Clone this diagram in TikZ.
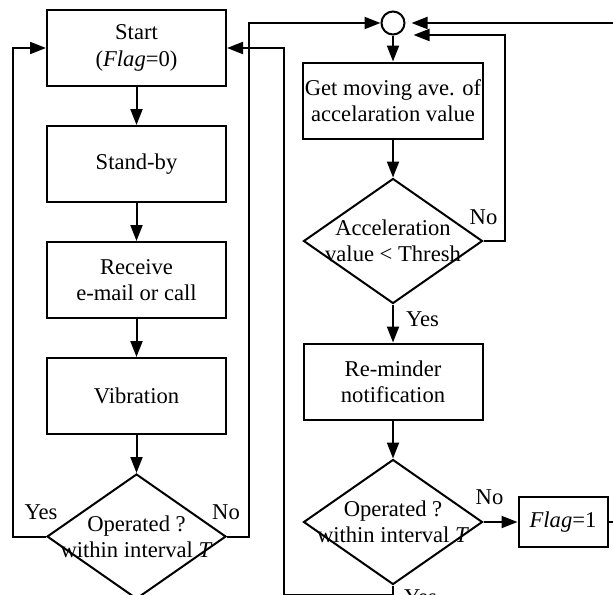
\documentclass[tikz,border=0pt]{standalone}
\usepackage{fontspec}
\setmainfont{Liberation Serif}
\usepackage{tikz}
\usetikzlibrary{arrows.meta,positioning,shapes.geometric}

\begin{document}
\begin{tikzpicture}[x=0.5pt,y=-0.5pt,->,>={Triangle[length=8pt,width=6pt]},line width=1pt,node distance=19pt,
  font=\fontsize{11.3}{13.2}\selectfont,
  box/.style={rectangle,draw,minimum width=89.5pt,minimum height=38pt,inner sep=1pt,align=center},
  dec/.style={diamond,draw,minimum width=89.5pt,minimum height=62.5pt,inner sep=0pt},
  lbl/.style={inner sep=1pt}]
	\useasboundingbox (0,0) rectangle (613,594);
	\clip (0,0) rectangle (613,594);
	% left column
	\node[box]               (Start)                      at (136.5,48) {Start\\(\textit{Flag}=0)};
	\node[box]               (Stand)  [below=of Start]    {Stand-by};
	\node[box]               (Recv)   [below=of Stand]    {Receive\\e-mail or call};
	\node[box]               (Vib)    [below=of Recv]     {Vibration};
	\node[dec]               (Op)     [below=of Vib]      {};
	\node[align=center]      (OpT)    at (Op)             {Operated ?\\within interval \textit{T}};
	% right column
	\node[circle,draw,minimum size=11.5pt,inner sep=0pt] (Junc) at (393,23) {};
	\node[box]               (Ave)    [below=13pt of Junc] {Get moving ave. of\\accelaration value};
	\node[dec]               (Acc)    [below=of Ave]      {};
	\node[align=center]      (AccT)   at (Acc)            {Acceleration\\value < Thresh};
	\node[box]               (Remind) [below=of Acc]      {Re-minder\\notification};
	\node[dec]               (Op2)    [below=of Remind]   {};
	\node[align=center]      (Op2T)   at (Op2)            {Operated ?\\within interval \textit{T}};
	\node[box,minimum width=44.5pt,minimum height=25pt] (Flag) [right=17pt of Op2] {\textit{Flag}=1};
	\coordinate (Back) at ([shift={(8,12)}]Junc.east);
	\coordinate (Top)  at ([xshift=3pt]Junc.east);
	\coordinate (Ret)  at ([xshift=28.5pt]Start.east);
	\path (Start)  edge (Stand)
	      (Stand)  edge (Recv)
	      (Recv)   edge (Vib)
	      (Vib)    edge (Op)
	      (Junc)   edge (Ave)
	      (Ave)    edge (Acc)
	      (Acc)    edge node[lbl,right=5pt,yshift=2.25pt] (YesA) {Yes} (Remind)
	      (Remind) edge (Op2)
	      (Op2)    edge node[lbl,above=7pt,xshift=-5.5pt] (NoB) {No} (Flag);
	% loops back
	\draw (Op.west) -- node[lbl,above=7pt,xshift=5.75pt] (YesL) {Yes} ++(-33,0) |- (Start.west);
	\draw (Op.east) -- node[lbl,above=7pt,xshift=-6pt] (NoL) {No} ++(22,0) |- (Junc.west);
	\draw (Acc.east) -- node[lbl,above=6.5pt,xshift=-5.25pt] (NoA) {No} ++(21,0) |- (Back);
	\draw (Flag.east) -- ++(20,0) |- (Top);
	\draw (Op2.south) -- node[lbl,pos=0,below right=0.5pt and 4pt] (YesB) {Yes} ++(0,9) -| (Ret) -- (Start.east);
\end{tikzpicture}
\end{document}
